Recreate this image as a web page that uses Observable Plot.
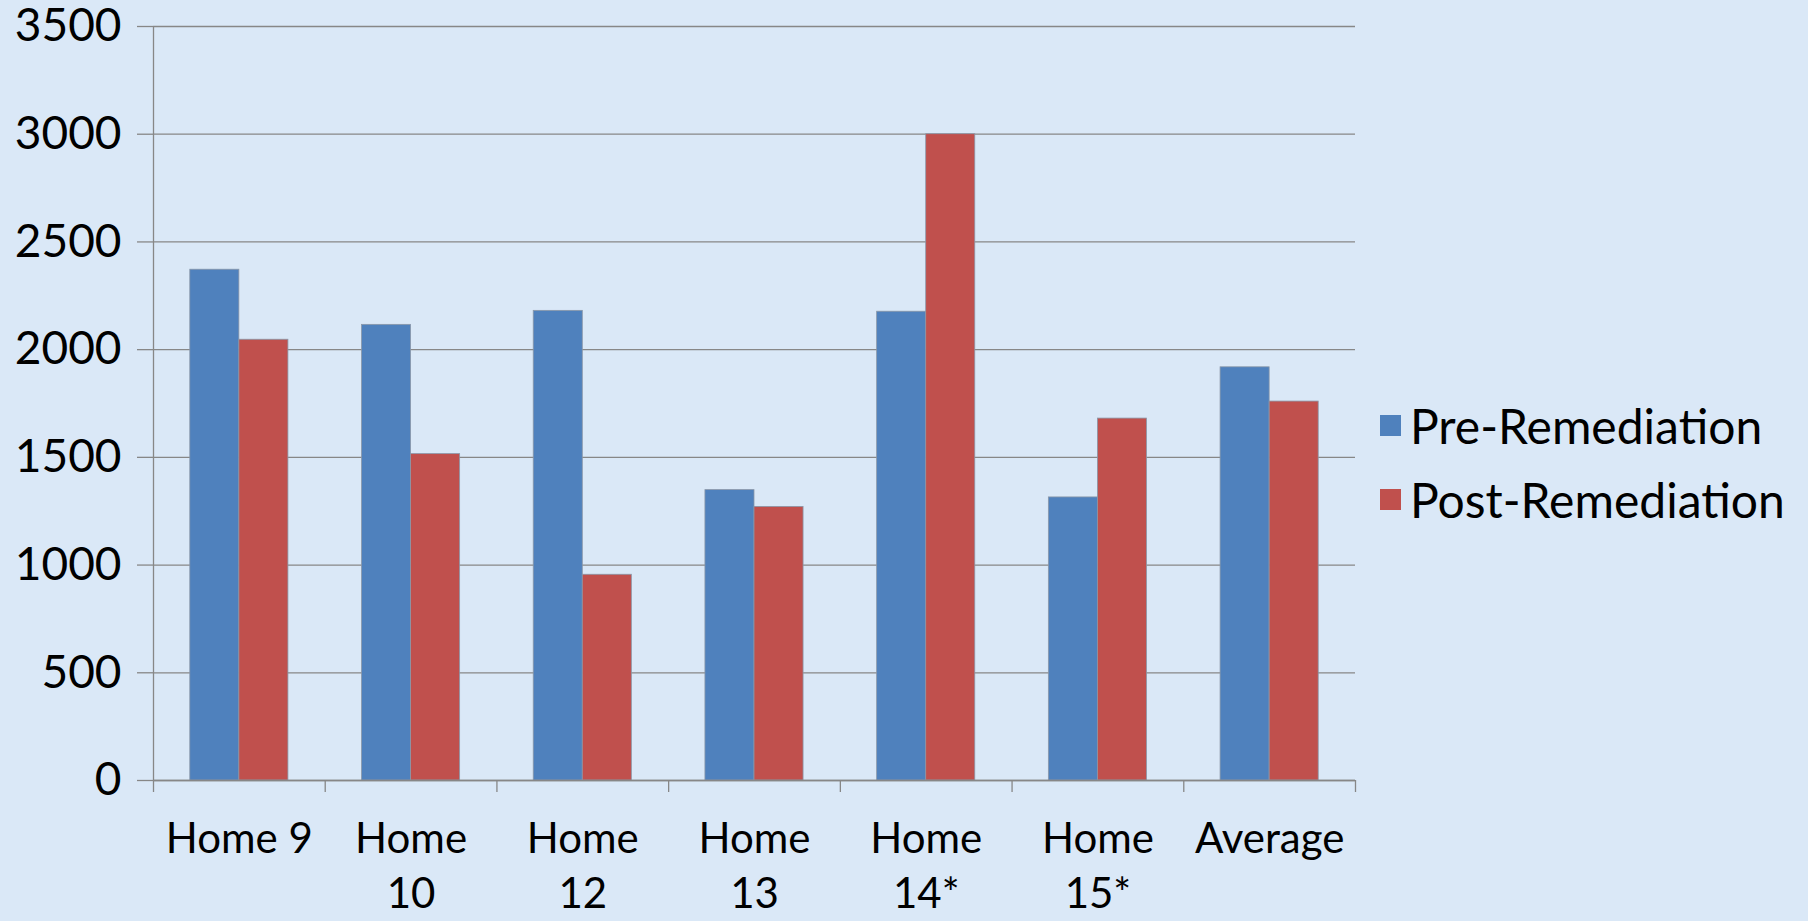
<!DOCTYPE html>
<html>
<head>
<meta charset="utf-8">
<script src="https://cdn.jsdelivr.net/npm/d3@7"></script>
<script src="https://cdn.jsdelivr.net/npm/@observablehq/plot@0.6"></script>
<style>
  html, body { margin: 0; padding: 0; }
  body {
    width: 1808px; height: 921px; overflow: hidden; position: relative;
    background: #dae8f7;
    font-family: Lato, "Noto Sans", sans-serif;
  }
  #chart { position: absolute; left: 0; top: 0; }
  #chart text { font-variant-ligatures: none; }
  #key { position: absolute; left: 1380px; top: 388px; width: 428px; }
  .series-key { font-size: 48px; font-family: Lato, "Noto Sans", sans-serif; color: #000; background: transparent; font-variant-ligatures: none; }
  .series-key-swatch { height: 74px; padding-bottom: 0 !important; display: flex; align-items: center; }
  .series-key-swatch svg { margin-right: 9px !important; }
  .series-key-swatch-label, .series-key-label { overflow: visible !important; white-space: nowrap; }
</style>
</head>
<body>
<div id="chart"></div>
<div id="key"></div>
<script>
// Radon readings per home, before and after remediation
const homes = ["Home 9", "Home 10", "Home 12", "Home 13", "Home 14*", "Home 15*", "Average"];
const homeLabels = ["Home 9", "Home\n10", "Home\n12", "Home\n13", "Home\n14*", "Home\n15*", "Average"];
const preRemediation = [2371, 2115, 2180, 1348, 2176, 1314, 1918];
const postRemediation = [2046, 1515, 955, 1270, 3000, 1680, 1759];
const seriesNames = ["Pre-Remediation", "Post-Remediation"];
const seriesColors = ["#4f81bd", "#c0504d"];
const yTicks = [0, 500, 1000, 1500, 2000, 2500, 3000, 3500];

// Clustered-column layout: two bars per category with a 150% gap width
const gapWidth = 1.5;
const barWidth = 1 / (seriesNames.length + gapWidth);
const seriesValues = [preRemediation, postRemediation];
const rows = seriesNames.flatMap((series, k) =>
  homes.map((home, i) => ({home, i, k, series, value: seriesValues[k][i]}))
);
const barStart = d => d.i + (gapWidth * barWidth) / 2 + d.k * barWidth;

const lineColor = "#878787";

const plot = Plot.plot({
  width: 1370,
  height: 921,
  marginLeft: 153,
  marginRight: 15,
  marginTop: 26,
  marginBottom: 141,
  style: {background: "transparent", fontFamily: "Lato, 'Noto Sans', sans-serif", fontSize: "43px", color: "#000", overflow: "visible"},
  x: {domain: [0, homes.length], label: null},
  y: {domain: [0, 3500], label: null},
  color: {domain: seriesNames, range: seriesColors},
  marks: [
    Plot.ruleY(yTicks, {stroke: lineColor, strokeWidth: 1.3}),
    Plot.axisY({ticks: yTicks, tickSize: 16, tickPadding: 16, fontSize: 46, stroke: lineColor, strokeWidth: 1.3, tickFormat: d => String(d), label: null}),
    Plot.rectY(rows, {
      x1: barStart,
      x2: d => barStart(d) + barWidth,
      y1: 0,
      y2: "value",
      fill: "series",
      stroke: "#8a97a8",
      strokeWidth: 0.8
    }),
    Plot.ruleX([0], {stroke: lineColor, strokeWidth: 1.3}),
    Plot.ruleY([0], {stroke: lineColor, strokeWidth: 1.5}),
    Plot.axisX({ticks: d3.range(homes.length + 1), tickSize: 12, tickFormat: () => "", stroke: lineColor, strokeWidth: 1.3, label: null}),
    Plot.axisX({
      ticks: homes.map((_, i) => i + 0.5),
      tickSize: 0,
      tickPadding: 34,
      lineHeight: 1.3,
      fontSize: 42,
      tickFormat: d => homeLabels[Math.floor(d)],
      label: null
    })
  ]
});
document.getElementById("chart").append(plot);

const key = plot.legend("color", {
  legend: "swatches",
  columns: 1,
  swatchSize: 21,
  className: "series-key",
  style: {fontSize: "48px", fontFamily: "Lato, 'Noto Sans', sans-serif", color: "#000", background: "transparent"}
});
document.getElementById("key").append(key);
</script>
</body>
</html>
